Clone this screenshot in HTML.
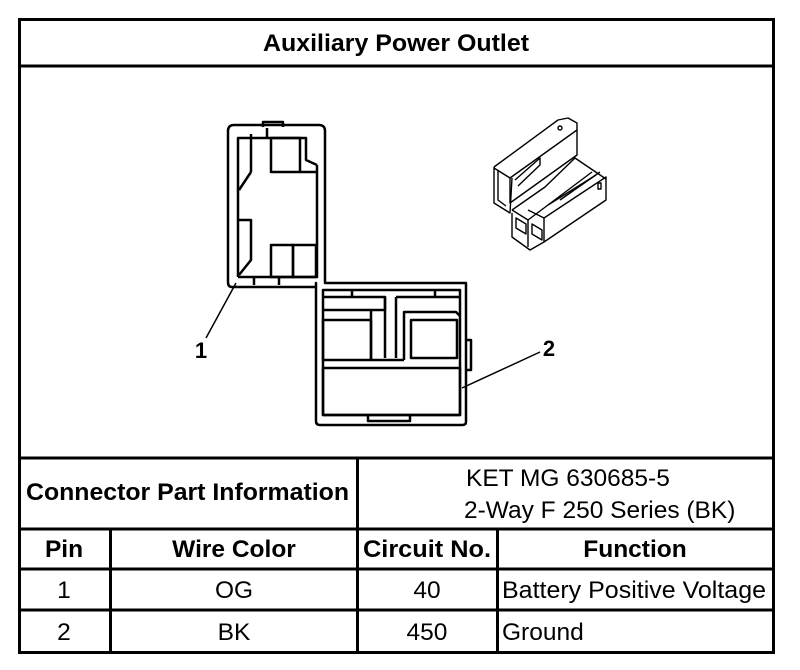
<!DOCTYPE html>
<html><head><meta charset="utf-8"><style>
body{margin:0;background:#fff;width:800px;height:670px;overflow:hidden;font-family:"Liberation Sans",Arial,sans-serif}
svg{position:absolute;left:0;top:0}
</style></head><body>
<svg width="800" height="670" viewBox="0 0 800 670" font-family="Liberation Sans, Arial, sans-serif">
<g fill="none" stroke="#000" stroke-width="3">
<rect x="19.5" y="19.5" width="754" height="633"/>
<line x1="19" y1="66" x2="774" y2="66"/>
<line x1="19" y1="458" x2="774" y2="458"/>
<line x1="19" y1="529" x2="774" y2="529"/>
<line x1="19" y1="569" x2="774" y2="569"/>
<line x1="19" y1="610" x2="774" y2="610"/>
<line x1="357.5" y1="458" x2="357.5" y2="652"/>
<line x1="110.5" y1="529" x2="110.5" y2="652"/>
<line x1="497.5" y1="529" x2="497.5" y2="652"/>
</g>
<g fill="none" stroke="#000" stroke-width="2.5" stroke-linejoin="round">
<path d="M316 283 L316 287 L232 287 Q228 287 228 282 L228 131 Q228 125 234 125 L319 125 Q325 125 325 131 L325 283 L466 283 L466 422 Q466 425 462 425 L320 425 Q316 425 316 421 Z"/>
<path d="M263 127 L263 122 L283 122 L283 127"/>
<path d="M238 277 L238 138 L306 138 L306 160 L317 165"/>
<path d="M317 165 L317 277 L238 277"/>
<line x1="251" y1="134" x2="251" y2="172"/>
<line x1="251" y1="172" x2="239" y2="190"/>
<line x1="267" y1="128" x2="267" y2="138"/>
<rect x="271" y="138" width="29" height="34"/>
<path d="M300 172 L316 172"/>
<rect x="271" y="245" width="22" height="32"/>
<rect x="293" y="245" width="23" height="32"/>
<path d="M238 220 L251 220 L251 260 L239 275"/>
<line x1="254" y1="277" x2="254" y2="285"/>
<line x1="279" y1="277" x2="279" y2="285"/>
<path d="M323 290 L460 290 L460 415 L323 415 Z"/>
<line x1="352" y1="290" x2="352" y2="297"/>
<line x1="435" y1="290" x2="435" y2="297"/>
<path d="M323 297 L385 297 L385 310 L323 310"/>
<path d="M396 297 L460 297"/>
<line x1="385" y1="297" x2="385" y2="358"/>
<line x1="396" y1="297" x2="396" y2="358"/>
<rect x="323" y="320" width="48" height="40"/>
<path d="M371 310 L371 360 M404 360 L404 312 L456 312 L460 316"/>
<rect x="411" y="320" width="46" height="38"/>
<line x1="371" y1="360" x2="404" y2="360"/>
<rect x="323" y="368" width="137" height="47"/>
<path d="M368 415 L368 421 L410 421 L410 415"/>
<path d="M466 340 L471 340 L471 370 L466 370"/>
</g>
<g stroke="#000" stroke-width="1.5" fill="none">
<line x1="236" y1="283" x2="206" y2="338"/>
<line x1="462" y1="388" x2="540" y2="352"/>
</g>
<text x="201" y="358" font-size="22" font-weight="bold" text-anchor="middle">1</text>
<text x="549" y="356" font-size="22" font-weight="bold" text-anchor="middle">2</text>
<g fill="none" stroke="#000" stroke-width="1.4" stroke-linejoin="round">
<path d="M494 167 L558 120 L568 118 L577 123 L577 155 L510 203 L510 178 L494 168"/>
<path d="M494 167 L494 203 L510 213 L512 178"/>
<path d="M510 178 L577 130"/>
<path d="M498 170 L498 200 L506 206"/>
<path d="M515 180 L540 158 L540 165 L518 186"/>
<path d="M512 210 L545 187 L575 158 L606 179"/>
<path d="M512 210 L528 220 L592 172"/>
<path d="M512 213 L512 237 L530 250 L544 242 L544 218 L528 210"/>
<path d="M544 218 L606 177 L606 200 L544 242"/>
<path d="M528 220 L528 247"/>
<path d="M516 218 L526 224 L526 234 L516 228 Z"/>
<path d="M532 224 L542 230 L542 240 L532 234 Z"/>
<path d="M548 205 L596 175"/>
<path d="M560 200 L600 172"/>
<rect x="598" y="183" width="3" height="6"/>
<circle cx="560" cy="128" r="2"/>
</g>
<g font-size="24.5" fill="#000">
<text x="396" y="51" font-weight="bold" text-anchor="middle" textLength="266" lengthAdjust="spacingAndGlyphs">Auxiliary Power Outlet</text>
<text x="26" y="500" font-weight="bold" textLength="323" lengthAdjust="spacingAndGlyphs">Connector Part Information</text>
<text x="466" y="486">KET MG 630685-5</text>
<text x="464" y="518">2-Way F 250 Series (BK)</text>
<text x="64" y="557" font-weight="bold" text-anchor="middle">Pin</text>
<text x="234" y="557" font-weight="bold" text-anchor="middle">Wire Color</text>
<text x="363" y="557" font-weight="bold" textLength="128" lengthAdjust="spacingAndGlyphs">Circuit No.</text>
<text x="635" y="557" font-weight="bold" text-anchor="middle">Function</text>
<text x="64" y="598" text-anchor="middle">1</text>
<text x="234" y="598" text-anchor="middle">OG</text>
<text x="427" y="598" text-anchor="middle">40</text>
<text x="502" y="598" textLength="264" lengthAdjust="spacingAndGlyphs">Battery Positive Voltage</text>
<text x="64" y="640" text-anchor="middle">2</text>
<text x="234" y="640" text-anchor="middle">BK</text>
<text x="427" y="640" text-anchor="middle">450</text>
<text x="502" y="640">Ground</text>
</g>
</svg>
</body></html>
